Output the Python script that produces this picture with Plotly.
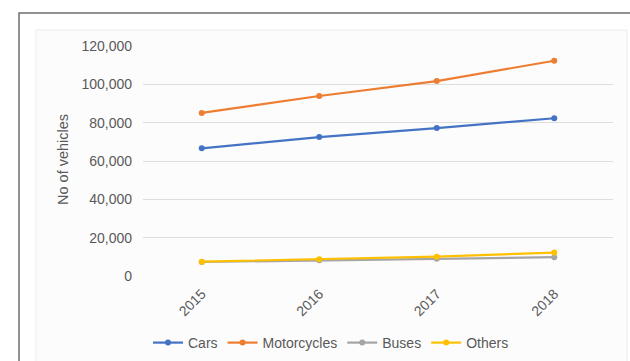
import plotly.graph_objects as go

# Registered vehicles per year, by vehicle type
years = ["2015", "2016", "2017", "2018"]
cars = [66600, 72500, 77200, 82300]
motorcycles = [85100, 93900, 101700, 112300]
buses = [7300, 8200, 9000, 9800]
others = [7500, 8700, 10100, 12200]

series_names = ["Cars", "Motorcycles", "Buses", "Others"]
series_colors = ["#4472C4", "#ED7D31", "#A5A5A5", "#FFC000"]
y_ticks = [0, 20000, 40000, 60000, 80000, 100000, 120000]

W, H = 630, 361


def px_x(v):
    return v / W


def px_y(v):
    return 1 - v / H


fig = go.Figure()
for name, vals, color in zip(series_names, [cars, motorcycles, buses, others], series_colors):
    fig.add_trace(go.Scatter(
        x=years, y=vals, name=name, mode="lines+markers",
        line=dict(color=color, width=2.2),
        marker=dict(color=color, size=6, symbol="circle"),
    ))

font_family = "Liberation Sans, Arial, sans-serif"
tick_color = "#595959"

fig.update_layout(
    width=W, height=H,
    margin=dict(l=0, r=0, t=0, b=0),
    paper_bgcolor="white",
    plot_bgcolor="rgba(0,0,0,0)",
    font=dict(family=font_family, size=14, color=tick_color),
    xaxis=dict(
        domain=[px_x(143), px_x(613)],
        type="category",
        range=[-0.5, len(years) - 0.5],
        tickangle=-45,
        showgrid=False, showline=False, zeroline=False,
        ticks="", automargin=False,
        tickfont=dict(size=14, color=tick_color),
        ticklabelstandoff=6,
    ),
    yaxis=dict(
        domain=[px_y(276), px_y(46)],
        range=[0, 120000],
        tickvals=y_ticks,
        tickformat=",",
        showgrid=True, gridcolor="#dedede", gridwidth=1,
        zeroline=False, showline=False, ticks="",
        automargin=False,
        tickfont=dict(size=14, color=tick_color),
        ticklabelstandoff=10,
    ),
    legend=dict(
        orientation="h",
        x=px_x(331), xanchor="center",
        y=px_y(343), yanchor="middle",
        font=dict(size=14, color=tick_color),
        itemwidth=30,
        bgcolor="rgba(0,0,0,0)",
    ),
    showlegend=True,
)

# Outer frame and the chart-area panel
fig.add_shape(type="rect", xref="paper", yref="paper",
              x0=px_x(19), x1=px_x(640), y0=px_y(370), y1=px_y(13),
              line=dict(color="#6e6e6e", width=1.5), fillcolor="white", layer="below")
fig.add_shape(type="rect", xref="paper", yref="paper",
              x0=px_x(36), x1=px_x(627), y0=px_y(370), y1=px_y(30),
              line=dict(color="#ececec", width=1), fillcolor="#fcfcfc", layer="below")

fig.add_annotation(
    text="No of vehicles", xref="paper", yref="paper",
    x=px_x(63), y=px_y(160), textangle=-90, showarrow=False,
    xanchor="center", yanchor="middle",
    font=dict(size=14.5, color=tick_color, family=font_family),
)

fig.write_html("out.html")
